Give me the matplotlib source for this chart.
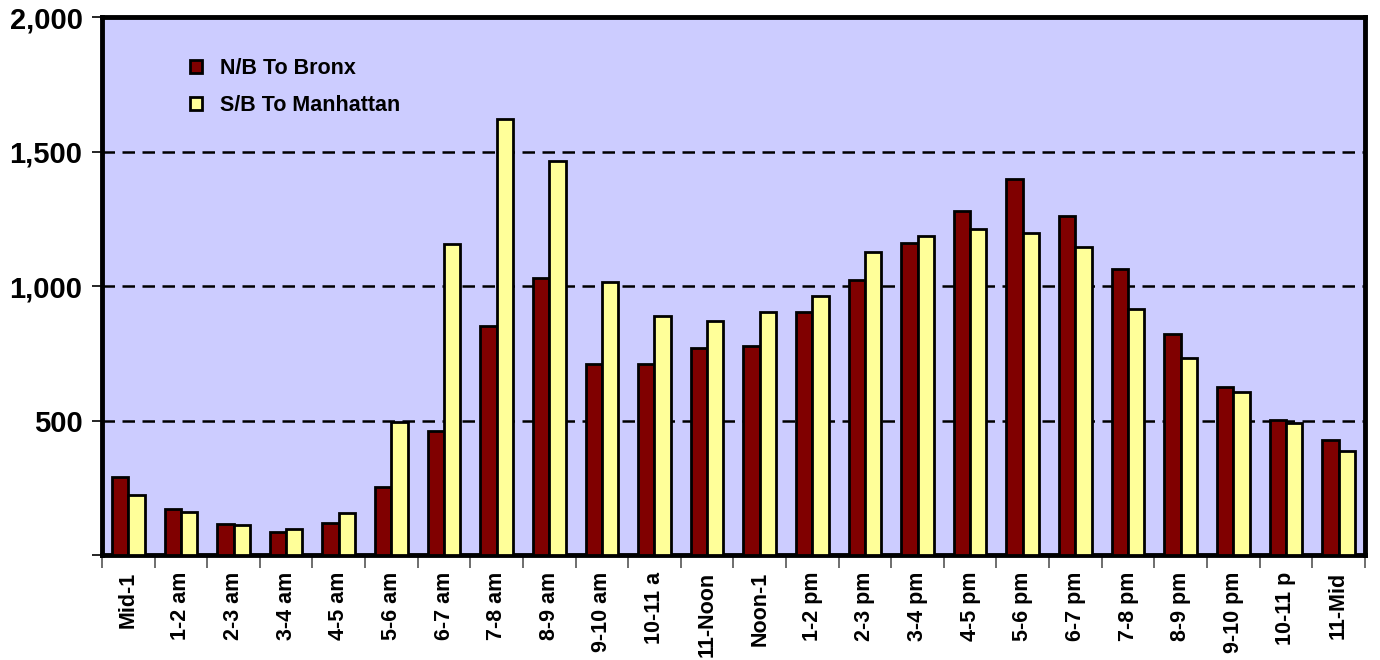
import matplotlib
matplotlib.use("Agg")
import matplotlib.pyplot as plt
import numpy as np
from matplotlib.ticker import FuncFormatter, FixedLocator

categories = ["Mid-1", "1-2 am", "2-3 am", "3-4 am", "4-5 am", "5-6 am", "6-7 am",
              "7-8 am", "8-9 am", "9-10 am", "10-11 a", "11-Noon", "Noon-1", "1-2 pm",
              "2-3 pm", "3-4 pm", "4-5 pm", "5-6 pm", "6-7 pm", "7-8 pm", "8-9 pm",
              "9-10 pm", "10-11 p", "11-Mid"]
nb_bronx = [291, 170, 115, 87, 120, 254, 462, 851, 1030, 710, 710, 770, 777, 903,
            1024, 1162, 1280, 1399, 1261, 1063, 823, 626, 504, 427]
sb_manhattan = [223, 160, 110, 98, 157, 496, 1156, 1621, 1465, 1014, 888, 870, 903, 964,
                1126, 1185, 1212, 1197, 1145, 916, 733, 605, 492, 387]
y_ticks = [0, 500, 1000, 1500, 2000]

plt.rcParams['font.family'] = ['Liberation Sans', 'DejaVu Sans']
plt.rcParams['font.weight'] = 'bold'

fig = plt.figure(figsize=(13.8, 6.6), dpi=100)
ax = fig.add_axes([0.0739, 0.159, 0.989 - 0.0739, 0.974 - 0.159])
ax.set_facecolor('#CCCCFF')

x = np.arange(len(categories)) + 0.5
w = 0.31
ax.bar(x - w / 2, nb_bronx, w, color='#800000', edgecolor='black', linewidth=2.0,
       label='N/B To Bronx', zorder=3)
ax.bar(x + w / 2, sb_manhattan, w, color='#FFFF99', edgecolor='black', linewidth=2.0,
       label='S/B To Manhattan', zorder=3)

ax.set_xlim(0, len(categories))
ax.set_ylim(0, 2000)

ax.yaxis.set_major_locator(FixedLocator(y_ticks))
ax.yaxis.set_major_formatter(FuncFormatter(lambda v, p: '' if v == 0 else f'{int(v):,}'))
ax.tick_params(axis='y', which='major', length=7, width=1.2, direction='out',
               labelsize=21, pad=7)
for lab in ax.get_yticklabels():
    lab.set_fontweight('bold')

for v in y_ticks[1:-1]:
    ax.axhline(v, color='black', linestyle=(0, (5, 3)), linewidth=1.8, zorder=1)

ax.xaxis.set_major_locator(FixedLocator(np.arange(len(categories) + 1)))
ax.xaxis.set_major_formatter(FuncFormatter(lambda v, p: ''))
ax.xaxis.set_minor_locator(FixedLocator(x))
ax.set_xticklabels(categories, minor=True, rotation=90, fontsize=15.5, fontweight='bold')
ax.tick_params(axis='x', which='major', length=9, width=1.2, color='#555555', direction='out')
ax.tick_params(axis='x', which='minor', length=0, pad=12)

for s in ax.spines.values():
    s.set_linewidth(3.5)
    s.set_color('black')

leg = ax.legend(loc='upper left', bbox_to_anchor=(0.054, 0.96), frameon=False,
                prop={'weight': 'bold', 'size': 15.5}, handlelength=0.6, handleheight=0.6,
                handletextpad=0.8, labelspacing=0.75)

fig.savefig('out.png', dpi=100)
